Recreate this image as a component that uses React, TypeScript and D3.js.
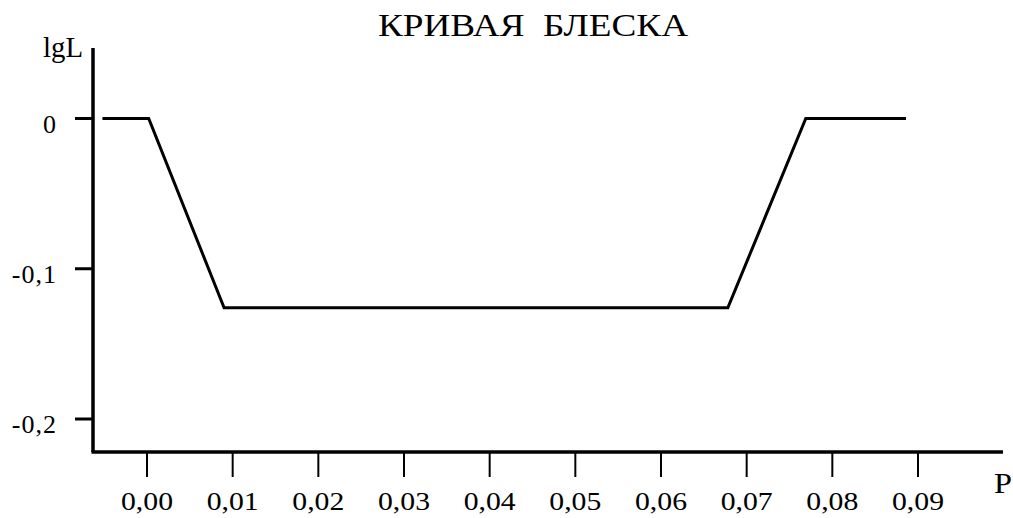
import React from "react";
import * as d3 from "d3";

const title = "КРИВАЯ  БЛЕСКА";
const yAxisLabel = "lgL";
const xAxisLabel = "P";
const xTicks = [0, 0.01, 0.02, 0.03, 0.04, 0.05, 0.06, 0.07, 0.08, 0.09];
const xTickLabels = ["0,00", "0,01", "0,02", "0,03", "0,04", "0,05", "0,06", "0,07", "0,08", "0,09"];
const yTicks = [0, -0.1, -0.2];
const yTickLabels = ["0", "-0,1", "-0,2"];
const pValues = [-0.0052, 0.0002, 0.009, 0.0678, 0.0769, 0.0886];
const lgLValues = [0, 0, -0.126, -0.126, 0, 0];

const W = 1013;
const H = 518;
const axisX = 93;
const axisY = 452;
const axisTop = 48;
const axisRight = 1003;

export default function App() {
  const x = d3.scaleLinear().domain([0, 0.09]).range([147, 918]);
  const y = d3.scaleLinear().domain([0, -0.2]).range([118.5, 419]);
  const pts = pValues.map((p, i) => [p, lgLValues[i]] as [number, number]);
  const line = d3
    .line<[number, number]>()
    .x((d) => x(d[0]))
    .y((d) => y(d[1]));
  const font = "'Liberation Serif', 'Times New Roman', serif";
  return (
    <svg
      width={W}
      height={H}
      style={{ position: "absolute", left: 0, top: 0, background: "#fff" }}
      fontFamily={font}
    >
      <rect x={0} y={0} width={W} height={H} fill="#fff" />
      <text
        x={378}
        y={36}
        fontSize={31}
        textLength={310}
        lengthAdjust="spacingAndGlyphs"
        style={{ whiteSpace: "pre" }}
        fill="#000"
      >
        {title}
      </text>
      {/* axes */}
      <line x1={axisX} y1={axisTop} x2={axisX} y2={axisY} stroke="#000" strokeWidth={3.5} />
      <line x1={axisX - 1.5} y1={axisY} x2={axisRight} y2={axisY} stroke="#000" strokeWidth={3.5} />
      <text x={43} y={57} fontSize={30} textLength={40} lengthAdjust="spacingAndGlyphs" fill="#000">
        {yAxisLabel}
      </text>
      <text x={994} y={493} fontSize={30} textLength={18} lengthAdjust="spacingAndGlyphs" fill="#000">
        {xAxisLabel}
      </text>
      {yTicks.map((t, i) => (
        <g key={"y" + i}>
          <line x1={75} x2={axisX} y1={y(t)} y2={y(t)} stroke="#000" strokeWidth={3} />
          <text x={57} y={y(t) + 14} fontSize={26} textAnchor="end" letterSpacing={1} fill="#000">
            {yTickLabels[i]}
          </text>
        </g>
      ))}
      {xTicks.map((t, i) => (
        <g key={"x" + i}>
          <line x1={x(t)} x2={x(t)} y1={axisY} y2={477} stroke="#000" strokeWidth={2} />
          <text
            x={x(t) - 26}
            y={510}
            fontSize={26}
            textLength={52}
            lengthAdjust="spacingAndGlyphs"
            fill="#000"
          >
            {xTickLabels[i]}
          </text>
        </g>
      ))}
      <path d={line(pts) || ""} fill="none" stroke="#000" strokeWidth={3} strokeLinejoin="miter" />
    </svg>
  );
}
